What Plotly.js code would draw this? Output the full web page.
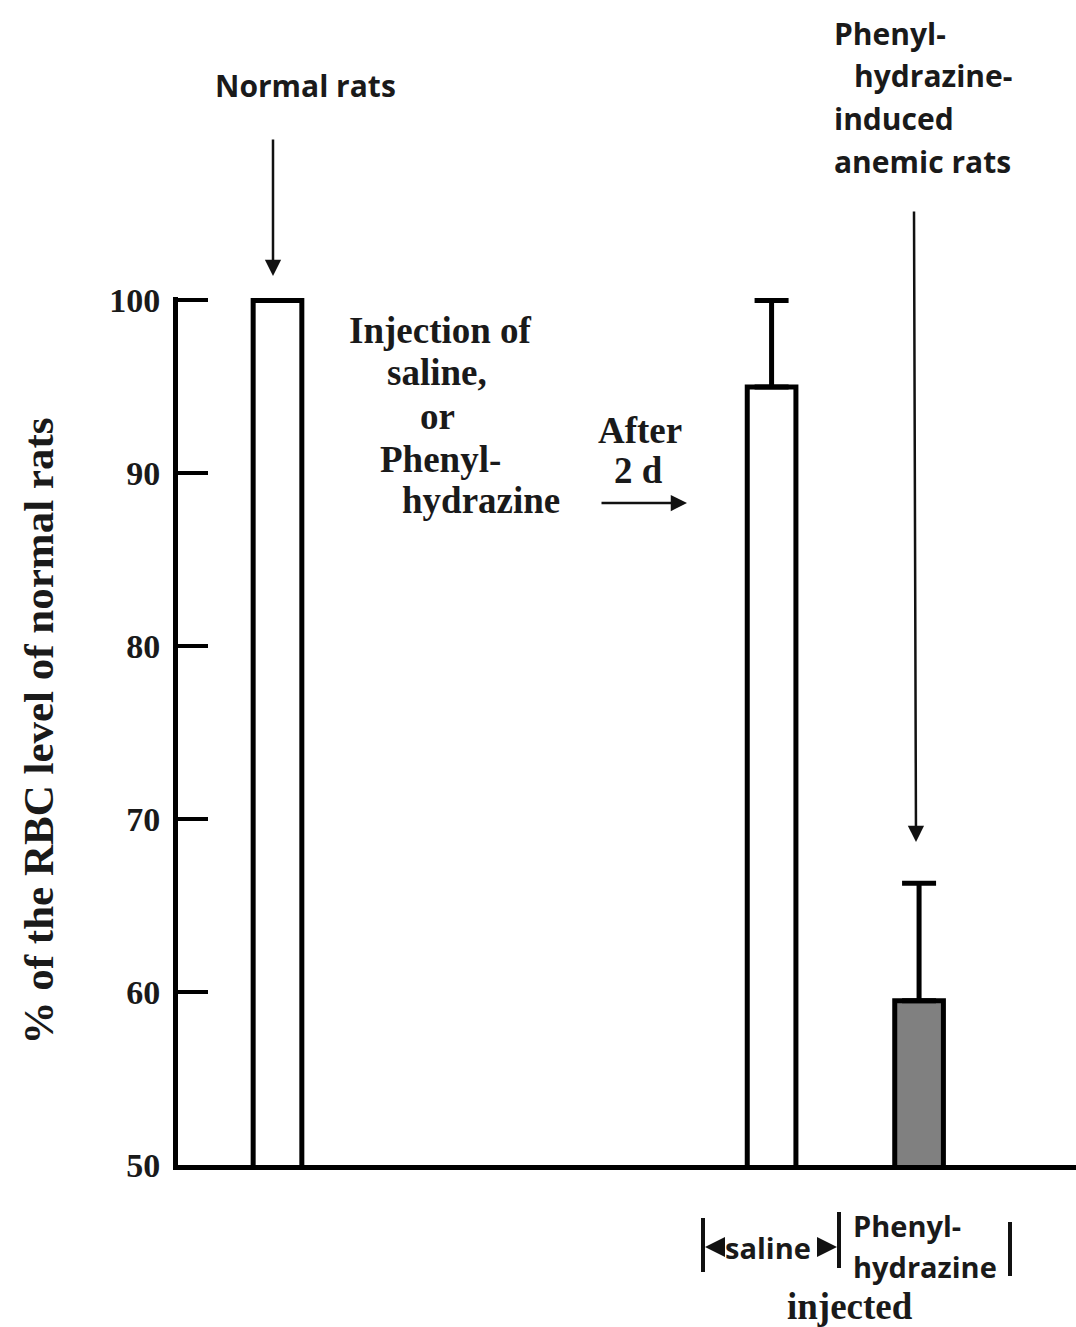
<!DOCTYPE html>
<html>
<head>
<meta charset="utf-8">
<script src="https://cdn.plot.ly/plotly-3.0.1.min.js"></script>
<style>html,body{margin:0;padding:0;background:#fff;}#chart{width:1076px;height:1327px;}</style>
</head>
<body>
<div id="chart"></div>
<script>
// ---- data ----
var groups = ['Normal rats', 'Saline injected', 'Phenylhydrazine injected'];
var rbcPercent = [100, 95, 59.5];
var errUpper = [0, 5, 6.8];
var barColors = ['#ffffff', '#ffffff', '#808080'];
var yTicks = [50, 60, 70, 80, 90, 100];

// ---- layout helpers (pixel -> paper) ----
var W = 1076, H = 1327, ML = 178, MR = 0, MT = 297, MB = 162;
var PW = W - ML - MR, PH = H - MT - MB;
function px(x) { return (x - ML) / PW; }
function py(y) { return (H - MB - y) / PH; }

// bar slot positions along the x axis (layout, not data)
var slots = [1, 4.35, 5.35];

var serif = {family: 'Liberation Serif, Times New Roman, serif', size: 37, color: '#1a1a1a', weight: 'bold'};
var sans = {family: 'Open Sans, Noto Sans, sans-serif', size: 30, color: '#1a1a1a', weight: 'bold'};
var sansB = {family: 'Open Sans, Noto Sans, sans-serif', size: 29, color: '#1a1a1a', weight: 'bold'};

function txt(t, x, y, font, xanchor) {
  return {text: t, xref: 'paper', yref: 'paper', x: px(x), y: py(y), showarrow: false,
          xanchor: xanchor || 'center', yanchor: 'middle', font: font};
}
function arrow(hx, hy, tx, ty, w, size) {
  return {text: '', xref: 'paper', yref: 'paper', x: px(hx), y: py(hy), axref: 'pixel', ayref: 'pixel',
          ax: tx - hx, ay: ty - hy, showarrow: true, arrowhead: 2, arrowsize: size || 1.3,
          arrowwidth: w || 2.5, arrowcolor: '#111'};
}

var trace = {
  type: 'bar',
  x: slots,
  y: rbcPercent,
  width: 0.33,
  marker: {color: barColors, line: {color: '#000', width: 5}},
  error_y: {type: 'data', symmetric: false, array: errUpper, arrayminus: [0, 0, 0],
            color: '#000', thickness: 5, width: 17},
  text: groups, textposition: 'none', hoverinfo: 'y',
  showlegend: false
};

var annotations = [
  txt('Normal rats', 305, 85, sans),
  arrow(273, 276, 273, 138, 2.5, 1.3),
  txt('Phenyl-', 832, 33, sans, 'left'),
  txt('hydrazine-', 852, 76, sans, 'left'),
  txt('induced', 832, 118, sans, 'left'),
  txt('anemic rats', 832, 161, sans, 'left'),
  arrow(916, 842, 914, 210, 2.5, 1.3),
  txt('Injection of', 440, 330, serif),
  txt('saline,', 437, 373, serif),
  txt('or', 437, 416, serif),
  txt('Phenyl-', 440, 459, serif),
  txt('hydrazine', 481, 500, serif),
  txt('After', 640, 430, serif),
  txt('2 d', 638, 470, serif),
  arrow(687, 503, 600, 503, 2.5, 1.3),
  txt('saline', 768, 1247, sansB),
  arrow(705, 1247, 722, 1247, 2.5, 1.6),
  arrow(837, 1247, 818, 1247, 2.5, 1.6),
  txt('Phenyl-', 851, 1225, sansB, 'left'),
  txt('hydrazine', 851, 1266, sansB, 'left'),
  txt('injected', 850, 1306, serif)
];

var shapes = [
  {type: 'line', xref: 'paper', yref: 'paper', x0: px(703), x1: px(703), y0: py(1218), y1: py(1272), line: {color: '#111', width: 4}},
  {type: 'line', xref: 'paper', yref: 'paper', x0: px(839), x1: px(839), y0: py(1212), y1: py(1268), line: {color: '#111', width: 4}},
  {type: 'line', xref: 'paper', yref: 'paper', x0: px(1010), x1: px(1010), y0: py(1222), y1: py(1276), line: {color: '#111', width: 4}}
];

var layout = {
  width: W, height: H,
  margin: {l: ML, r: MR, t: MT, b: MB, pad: 0},
  paper_bgcolor: '#ffffff', plot_bgcolor: '#ffffff',
  xaxis: {range: [0.3254, 6.414], showline: true, linecolor: '#000', linewidth: 5,
          showticklabels: false, ticks: '', showgrid: false, zeroline: false, fixedrange: true},
  yaxis: {range: [50, 100.2], tickvals: yTicks, ticktext: yTicks.map(String),
          showline: true, linecolor: '#000', linewidth: 5, ticks: 'inside', ticklen: 30,
          tickwidth: 4, tickcolor: '#000', showgrid: false, zeroline: false,
          tickfont: {family: 'Liberation Serif, Times New Roman, serif', size: 34, color: '#1a1a1a', weight: 'bold'},
          ticklabelstandoff: 6,
          title: {text: '% of the RBC level of normal rats', standoff: 44,
                  font: {family: 'Liberation Serif, Times New Roman, serif', size: 43, color: '#1a1a1a', weight: 'bold'}},
          fixedrange: true},
  annotations: annotations,
  shapes: shapes,
  showlegend: false
};

Plotly.newPlot('chart', [trace], layout, {displayModeBar: false, staticPlot: true});
</script>
</body>
</html>
